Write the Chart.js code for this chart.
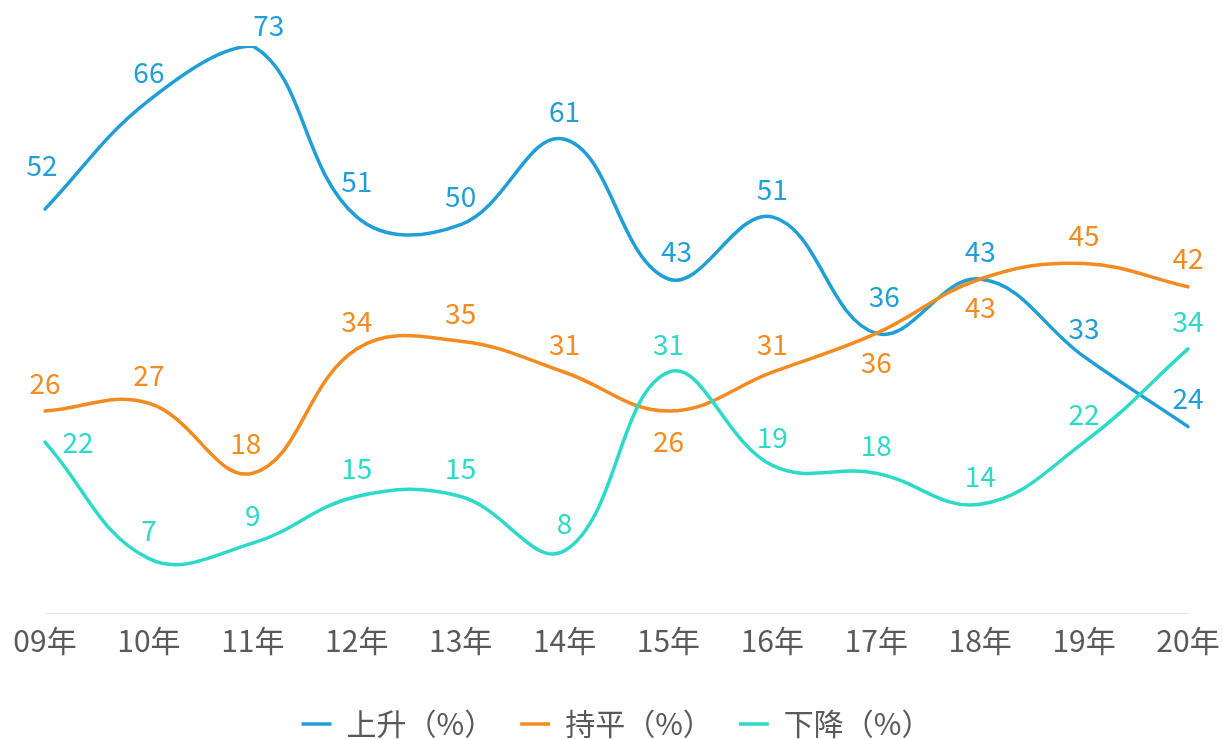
<!DOCTYPE html>
<html><head><meta charset="utf-8">
<script src="https://cdn.jsdelivr.net/npm/chart.js@4"></script>
<style>html,body{margin:0;padding:0;background:#fff}#wrap{width:1222px;height:739px}</style>
</head><body><div id="wrap"><canvas id="c" width="1222" height="739"></canvas></div>
<script>
const categories = ['09年','10年','11年','12年','13年','14年','15年','16年','17年','18年','19年','20年'];
const seriesNames = ['上升（%）','持平（%）','下降（%）'];
const riseValues = [52,66,73,51,50,61,43,51,36,43,33,24];
const flatValues = [26,27,18,34,35,31,26,31,36,43,45,42];
const fallValues = [22,7,9,15,15,8,31,19,18,14,22,34];

const colors = ['#1f9fd6','#f38b20','#2dd9c7'];
const FONT = '"Noto Sans CJK SC", "Noto Sans", sans-serif';
Chart.defaults.font.family = FONT;

// label placement tweaks (style only): [dx, dy] per point index, default above the point
const labelShift = [
  {0:[-3,-44], 2:[16,-21], 3:[0,-36], 6:[8,-28], 8:[8,-37]},
  {2:[-7,-30], 6:[0,30], 8:[0,29], 9:[0,28]},
  {0:[33,0]}
];

const labelPlugin = {
  id: 'valueLabels',
  afterDatasetsDraw(chart) {
    const ctx = chart.ctx;
    ctx.save();
    ctx.font = '28px ' + FONT;
    ctx.textAlign = 'center';
    ctx.textBaseline = 'middle';
    chart.data.datasets.forEach((ds, di) => {
      const meta = chart.getDatasetMeta(di);
      meta.data.forEach((pt, i) => {
        const s = labelShift[di][i] || [0,-28];
        ctx.fillStyle = colors[di];
        ctx.fillText(String(ds.data[i]), pt.x + s[0], pt.y + s[1]);
      });
    });
    ctx.restore();
  }
};

const seriesValues = [riseValues, flatValues, fallValues];
new Chart(document.getElementById('c'), {
  type: 'line',
  data: {
    labels: categories,
    datasets: seriesValues.map((vals, i) => ({
      label: seriesNames[i],
      data: vals,
      borderColor: colors[i],
      backgroundColor: colors[i],
      borderWidth: 3.5,
      borderCapStyle: 'round',
      pointRadius: 0,
      pointHoverRadius: 0,
      tension: 0.4,
      fill: false,
      order: 3 - i
    }))
  },
  options: {
    responsive: false,
    devicePixelRatio: 1,
    animation: false,
    layout: { padding: { left: 45, right: 34, top: 46, bottom: -10 } },
    plugins: {
      tooltip: { enabled: false },
      legend: {
        position: 'bottom',
        labels: {
          usePointStyle: true,
          pointStyle: 'line',
          pointStyleWidth: 30,
          boxHeight: 30,
          padding: 26,
          color: '#595959',
          font: { size: 30 },
          sort: (a, b) => a.datasetIndex - b.datasetIndex
        }
      }
    },
    scales: {
      x: {
        offset: false,
        grid: { display: false, drawTicks: false },
        border: { display: true, color: '#e8e8e8', width: 1 },
        ticks: { color: '#595959', font: { size: 30 }, padding: 10, maxRotation: 0, autoSkip: false },
        afterFit(scale) { scale.paddingLeft = 0; scale.paddingRight = 0; scale.height += 14; }
      },
      y: { display: false, min: 0, max: 73 }
    }
  },
  plugins: [labelPlugin]
});
</script></body></html>
